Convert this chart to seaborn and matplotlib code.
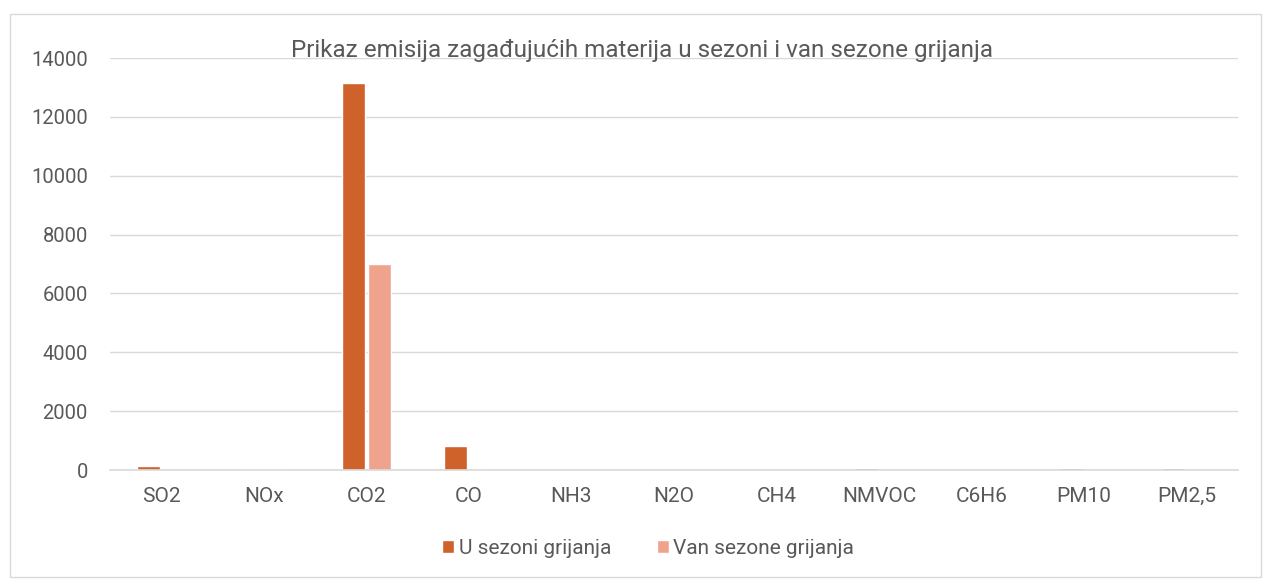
import matplotlib
matplotlib.use("Agg")
import matplotlib.pyplot as plt
import seaborn as sns
import pandas as pd
from matplotlib.patches import Rectangle

categories = ["SO2", "NOx", "CO2", "CO", "NH3", "N2O", "CH4", "NMVOC", "C6H6", "PM10", "PM2,5"]
u_sezoni = [120, 50, 13150, 810, 3, 2, 15, 70, 3, 70, 65]
van_sezone = [8, 20, 7000, 20, 2, 1, 12, 10, 1, 8, 8]
series_names = ["U sezoni grijanja", "Van sezone grijanja"]
yticks = [0, 2000, 4000, 6000, 8000, 10000, 12000, 14000]

df = pd.DataFrame({
    "cat": categories * 2,
    "val": u_sezoni + van_sezone,
    "series": [series_names[0]] * len(categories) + [series_names[1]] * len(categories),
})

sns.set_theme(style="white")
plt.rcParams["font.family"] = ["Roboto", "DejaVu Sans"]
text_color = "#595959"

fig = plt.figure(figsize=(12.64, 5.79), dpi=100)
ax = fig.add_axes([110 / 1264, 1 - 470 / 579, 1128 / 1264, 412 / 579])

sns.barplot(data=df, x="cat", y="val", hue="series",
            palette=["#CF622B", "#F0A38C"], width=0.51, gap=0.12,
            saturation=1, ax=ax, legend=True)

ax.set_xlim(-0.5, len(categories) - 0.5)
ax.set_ylim(0, 14000)
ax.set_yticks(yticks)
ax.set_yticklabels([str(t) for t in yticks])
ax.yaxis.grid(True, color="#D9D9D9", linewidth=1)
ax.set_axisbelow(True)
for s in ["top", "right", "left"]:
    ax.spines[s].set_visible(False)
ax.spines["bottom"].set_color("#D9D9D9")
ax.spines["bottom"].set_linewidth(1.2)
ax.tick_params(axis="both", length=0, colors=text_color)
ax.tick_params(axis="x", pad=12, labelsize=15)
ax.tick_params(axis="y", pad=16, labelsize=14.5)
ax.set_xlabel("")
ax.set_ylabel("")

fig.text(0.508, 0.912, "Prikaz emisija zagađujućih materija u sezoni i van sezone grijanja",
         ha="center", va="center", fontsize=17.5, color=text_color)

leg = ax.legend(loc="center", bbox_to_anchor=(0.477, -0.19), ncol=2, frameon=False,
                fontsize=15, handlelength=0.6, handleheight=0.6, handletextpad=0.2,
                columnspacing=2.2)
for t in leg.get_texts():
    t.set_color(text_color)

fig.patches.append(Rectangle((0.008, 0.003), 0.99, 0.972, transform=fig.transFigure,
                             fill=False, edgecolor="#D9D9D9", linewidth=1))

fig.savefig("out.png", dpi=100)
